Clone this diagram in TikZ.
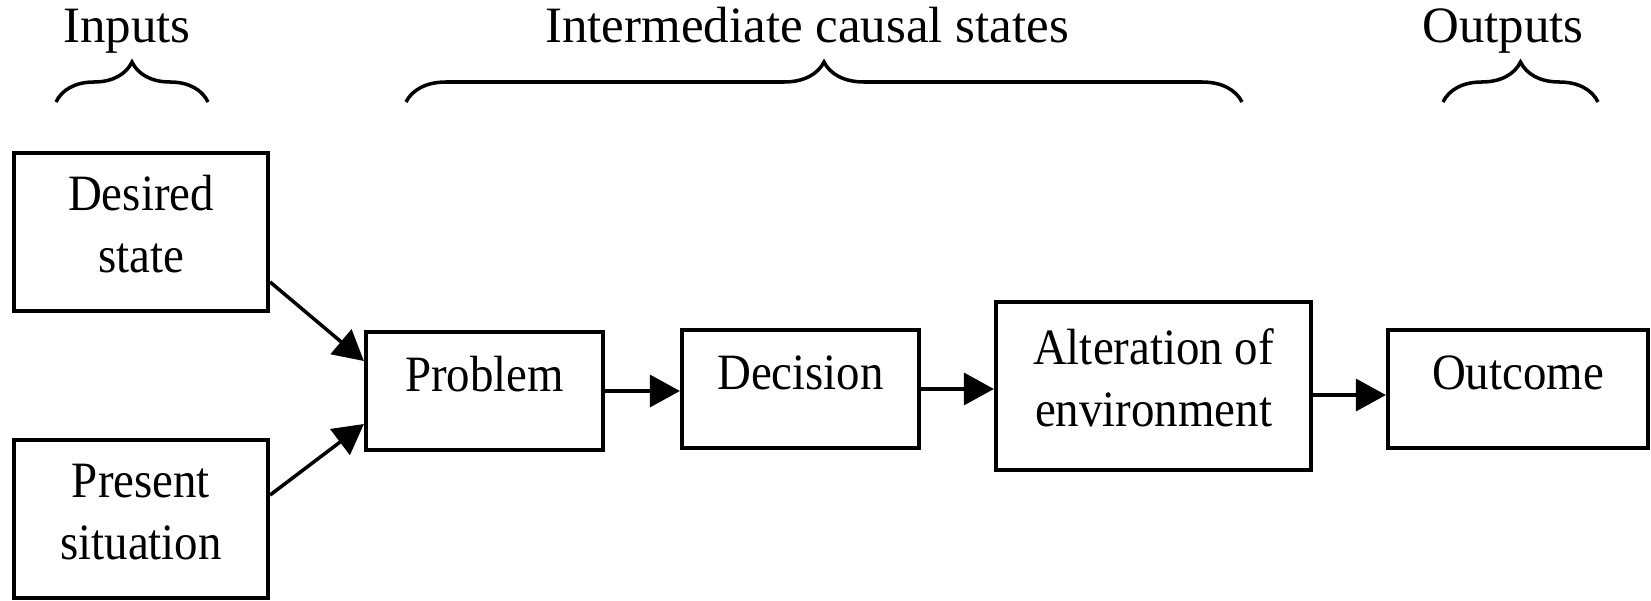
\documentclass[tikz,border=0pt]{standalone}
\usepackage{fontspec}
\setmainfont{Liberation Serif}
\newfontfamily\narrowfont[FakeStretch=0.92]{Liberation Serif}
\usetikzlibrary{arrows.meta,decorations.pathreplacing,positioning}

\begin{document}
\begin{tikzpicture}[font=\fontsize{14.5}{17.5}\selectfont,
    box/.style={draw=black, line width=1.2pt, align=center, inner sep=0pt,
        font=\narrowfont\fontsize{14.5}{17.5}\selectfont},
    oneline/.style={box, text height=0.35cm, text depth=0.35cm},
    twoline/.style={box, text height=0.98cm, text depth=0.18cm},
    arr/.style={line width=1pt, -{Triangle[length=0.3cm,width=0.32cm]}},
    brc/.style={line width=1pt, decorate, decoration={brace, amplitude=0.4cm}}]
        \useasboundingbox (0,0) rectangle (16.51,6);

        % headings with their braces
        \draw [brc] (0.56,4.98) -- (2.08,4.98);
        \node [anchor=base] (inputs) at (1.27,5.57) {Inputs};
        \draw [brc] (4.06,4.98) -- (12.42,4.98);
        \node [anchor=base] (states) at (8.07,5.57) {Intermediate causal states};
        \draw [brc] (14.43,4.98) -- (15.98,4.98);
        \node [anchor=base] (outputs) at (15.03,5.57) {Outputs};

        % boxes
        \node [twoline, minimum width=2.54cm, minimum height=1.58cm] (desired) at (1.41,3.68) {Desired\\state};
        \node [twoline, minimum width=2.54cm, minimum height=1.58cm] (present) at (1.41,0.81) {Present\\situation};
        \node [oneline, minimum width=2.37cm, minimum height=1.18cm] (problem) at (4.845,2.09) {Problem};
        \node [oneline, minimum width=2.37cm, minimum height=1.18cm] (decision) at (8.005,2.11) {Decision};
        \node [twoline, minimum width=3.15cm, minimum height=1.68cm] (alter) at (11.535,2.14) {Alteration of\\environment};
        \node [oneline, minimum width=2.60cm, minimum height=1.18cm] (outcome) at (15.18,2.11) {Outcome};

        % arrows
        \draw [arr] ([yshift=-5mm]desired.east) -- ([yshift=3mm]problem.west);
        \draw [arr] ([yshift=2.4mm]present.east) -- ([yshift=-3.3mm]problem.west);
        \draw [arr] (problem.east) -- (problem.east -| decision.west);
        \draw [arr] (decision.east) -- (decision.east -| alter.west);
        \draw [arr] ([yshift=-0.9mm]alter.east) -- ([yshift=-0.9mm]alter.east -| outcome.west);
\end{tikzpicture}
\end{document}
